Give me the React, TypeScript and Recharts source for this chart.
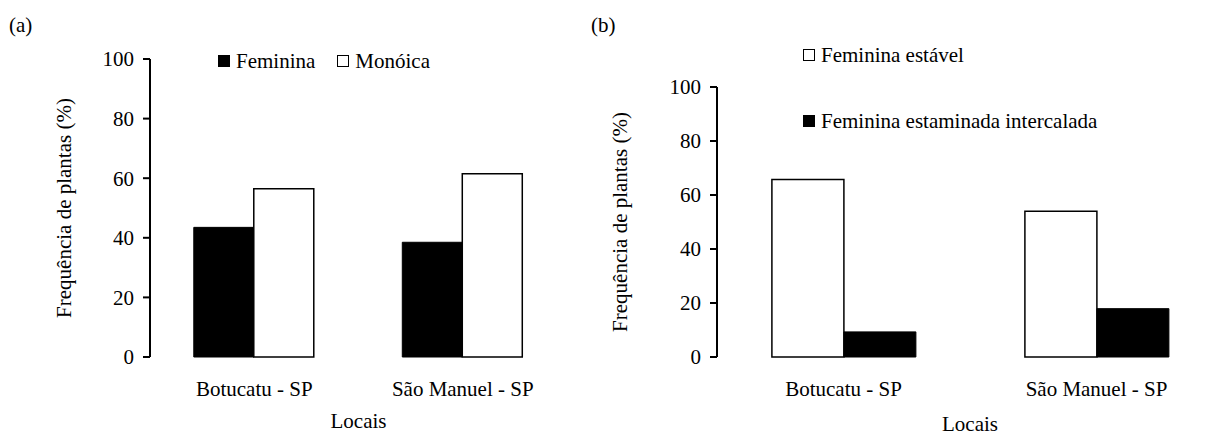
import React from 'react';
import { BarChart, Bar, XAxis, YAxis, Legend } from 'recharts';

// locais
const sites = ['Botucatu - SP', 'São Manuel - SP'];

// (a) frequência por sexo
const femininaA = [43.5, 38.5];
const monoicaA = [56.5, 61.5];

// (b) plantas femininas
const estavelB = [65.7, 54.0];
const intercaladaB = [9.3, 17.9];

const yTicks = [0, 20, 40, 60, 80, 100];
const edgeTicks = [0, 1, 2];

const FONT = '"Liberation Serif", "Times New Roman", serif';

const dataA = sites.map((site, i) => ({ site, feminina: femininaA[i], monoica: monoicaA[i] }));
const dataB = sites.map((site, i) => ({ site, estavel: estavelB[i], intercalada: intercaladaB[i] }));

const tickStyle = { fill: '#000', fontSize: 21, fontFamily: FONT };

function Swatch({ fill }: { fill: string }) {
  return (
    <span
      style={{
        display: 'inline-block',
        width: 10,
        height: 10,
        background: fill,
        border: '1px solid #000',
        marginRight: 6,
      }}
    />
  );
}

// legenda na ordem das séries (o Legend ordena por nome se deixado)
const renderLegend = (order: string[], direction: 'row' | 'column', gap: number) => (props: any) => {
  const items = [...(props.payload || [])].sort(
    (a: any, b: any) => order.indexOf(a.dataKey) - order.indexOf(b.dataKey)
  );
  return (
    <div style={{ display: 'flex', flexDirection: direction, gap, fontFamily: FONT, fontSize: 21, color: '#000' }}>
      {items.map((it: any) => (
        <div key={it.value} style={{ display: 'flex', alignItems: 'center', lineHeight: '22px', whiteSpace: 'nowrap' }}>
          <Swatch fill={it.payload?.fill ?? it.color} />
          {it.value}
        </div>
      ))}
    </div>
  );
};

export default function App() {
  return (
    <div
      style={{
        position: 'absolute',
        left: 0,
        top: 0,
        width: 1213,
        height: 436,
        overflow: 'hidden',
        background: '#fff',
        fontFamily: FONT,
      }}
    >
      <div style={{ position: 'absolute', left: 9, top: 15, fontSize: 21, lineHeight: '20px' }}>(a)</div>
      <div style={{ position: 'absolute', left: 591, top: 15, fontSize: 21, lineHeight: '20px' }}>(b)</div>

      {/* painel (a) */}
      <div style={{ position: 'absolute', left: 0, top: 0 }}>
        <BarChart
          width={580}
          height={436}
          data={dataA}
          margin={{ top: 59, right: 13, bottom: 4, left: 40 }}
          barCategoryGap="21%"
          barGap={0}
        >
          <XAxis
            xAxisId="edges"
            type="number"
            domain={[0, 2]}
            ticks={edgeTicks}
            height={0}
            tick={false}
            tickSize={7}
            stroke="#000"
            strokeWidth={2}
          />
          <XAxis
            xAxisId="cat"
            dataKey="site"
            height={75}
            axisLine={false}
            tickLine={false}
            tickSize={6}
            tickMargin={18}
            tick={tickStyle}
            interval={0}
            label={{ value: 'Locais', position: 'insideBottom', offset: 4, style: { ...tickStyle } }}
          />
          <YAxis
            domain={[0, 100]}
            ticks={yTicks}
            width={110}
            stroke="#000"
            strokeWidth={2}
            tickSize={7}
            tickMargin={9}
            tick={tickStyle}
            label={{
              value: 'Frequência de plantas (%)',
              angle: -90,
              position: 'insideLeft',
              offset: 24,
              style: { ...tickStyle, textAnchor: 'middle' },
            }}
          />
          <Legend
            layout="horizontal"
            verticalAlign="middle"
            align="center"
            wrapperStyle={{ left: 218, top: 50, width: 'auto' }}
            content={renderLegend(['feminina', 'monoica'], 'row', 22)}
          />
          <Bar xAxisId="cat" dataKey="feminina" name="Feminina" fill="#000" stroke="#000" strokeWidth={1} isAnimationActive={false} />
          <Bar xAxisId="cat" dataKey="monoica" name="Monóica" fill="#fff" stroke="#000" strokeWidth={1.5} isAnimationActive={false} />
        </BarChart>
      </div>

      {/* painel (b) */}
      <div style={{ position: 'absolute', left: 580, top: 0 }}>
        <BarChart
          width={660}
          height={436}
          data={dataB}
          margin={{ top: 87, right: 17, bottom: 0, left: 20 }}
          barCategoryGap="21.7%"
          barGap={0}
        >
          <XAxis
            xAxisId="edges"
            type="number"
            domain={[0, 2]}
            ticks={edgeTicks}
            height={0}
            tick={false}
            tickSize={7}
            stroke="#000"
            strokeWidth={2}
          />
          <XAxis
            xAxisId="cat"
            dataKey="site"
            height={79}
            axisLine={false}
            tickLine={false}
            tickSize={6}
            tickMargin={18}
            tick={tickStyle}
            interval={0}
            label={{ value: 'Locais', position: 'insideBottom', offset: 5, style: { ...tickStyle } }}
          />
          <YAxis
            domain={[0, 100]}
            ticks={yTicks}
            width={117}
            stroke="#000"
            strokeWidth={2}
            tickSize={7}
            tickMargin={9}
            tick={tickStyle}
            label={{
              value: 'Frequência de plantas (%)',
              angle: -90,
              position: 'insideLeft',
              offset: 20,
              style: { ...tickStyle, textAnchor: 'middle' },
            }}
          />
          <Legend
            layout="horizontal"
            verticalAlign="middle"
            align="center"
            wrapperStyle={{ left: 223, top: 44, width: 'auto' }}
            content={renderLegend(['estavel', 'intercalada'], 'column', 44)}
          />
          <Bar xAxisId="cat" dataKey="estavel" name="Feminina estável" fill="#fff" stroke="#000" strokeWidth={1.5} isAnimationActive={false} />
          <Bar xAxisId="cat" dataKey="intercalada" name="Feminina estaminada intercalada" fill="#000" stroke="#000" strokeWidth={1} isAnimationActive={false} />
        </BarChart>
      </div>
    </div>
  );
}
